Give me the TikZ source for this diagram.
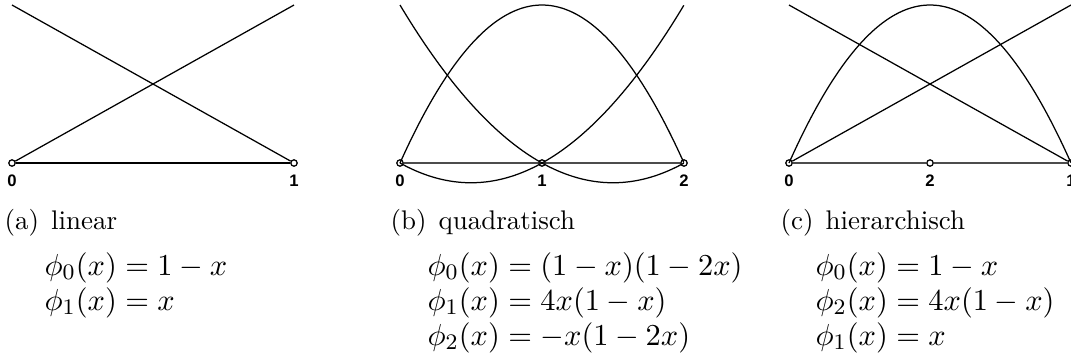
\documentclass[tikz,border=0pt]{standalone}
\usepackage{fontspec}
\newfontfamily\knotfont{Liberation Sans}
\usetikzlibrary{positioning}

\tikzset{
  knot/.style={circle, draw, inner sep=0pt, minimum size=2.3pt, line width=0.45pt},
  knotlabel/.style={inner sep=0pt, font=\knotfont\bfseries\fontsize{6}{7}\selectfont},
  basis/.style={line width=0.45pt},
  axisline/.style={line width=0.55pt, black!70},
  caption/.style={anchor=base west, inner sep=0pt, font=\fontsize{9.7}{11}\selectfont},
  formula/.style={anchor=base west, inner sep=0pt, font=\fontsize{10.8}{13}\selectfont},
}

\begin{document}
\begin{tikzpicture}[x=0.36pt, y=-0.36pt]
  \useasboundingbox (0,0) rectangle (1071,360);

  % (a) linear
  \node[knot] (a0) at (12,163) {};
  \node[knot] (a1) at (294,163) {};
  \coordinate (a0top) at (12,5);
  \coordinate (a1top) at (294,5);
  \draw[basis] (a0) -- (a1top);
  \draw[basis] (a1) -- (a0top);
  \draw[axisline, black] (a0) -- (a1);
  \node[knotlabel, below=2.6pt of a0] (la0) {0};
  \node[knotlabel, below=2.6pt of a1] (la1) {1};
  \node[caption] (capa) at (4,229) {(a)\hspace{0.45em}linear};
  \node[formula] (fa0) at (44,275) {$\phi_0(x) = 1 - x$};
  \node[formula] (fa1) at (44,310) {$\phi_1(x) = x$};

  % (b) quadratisch
  \draw[basis, domain=0:1, samples=80, smooth, variable=\t]
    plot ({400+284*\t},{163-158*(1-\t)*(1-2*\t)});
  \draw[basis, domain=0:1, samples=80, smooth, variable=\t]
    plot ({400+284*\t},{163-158*4*\t*(1-\t)});
  \draw[basis, domain=0:1, samples=80, smooth, variable=\t]
    plot ({400+284*\t},{163+158*\t*(1-2*\t)});
  \node[knot] (b0) at (400,163) {};
  \node[knot] (b1) at (542,163) {};
  \node[knot] (b2) at (684,163) {};
  \draw[axisline] (b0) -- (b1);
  \draw[axisline] (b1) -- (b2);
  \node[knotlabel, below=2.6pt of b0] (lb0) {0};
  \node[knotlabel, below=2.6pt of b1] (lb1) {1};
  \node[knotlabel, below=2.6pt of b2] (lb2) {2};
  \node[caption] (capb) at (390,229) {(b)\hspace{0.45em}quadratisch};
  \node[formula] (fb0) at (427,275) {$\phi_0(x) = (1 - x)(1 - 2x)$};
  \node[formula] (fb1) at (427,310) {$\phi_1(x) = 4x(1 - x)$};
  \node[formula] (fb2) at (427,345) {$\phi_2(x) = -x(1 - 2x)$};

  % (c) hierarchisch
  \node[knot] (c0) at (789,163) {};
  \node[knot] (c2) at (930,163) {};
  \node[knot] (c1) at (1071,163) {};
  \coordinate (c0top) at (789,5);
  \coordinate (c1top) at (1071,5);
  \draw[basis] (c0) -- (c1top);
  \draw[basis] (c1) -- (c0top);
  \draw[basis, domain=0:1, samples=80, smooth, variable=\t]
    plot ({789+282*\t},{163-158*4*\t*(1-\t)});
  \draw[axisline] (c0) -- (c2);
  \draw[axisline] (c2) -- (c1);
  \node[knotlabel, below=2.6pt of c0] (lc0) {0};
  \node[knotlabel, below=2.6pt of c2] (lc2) {2};
  \node[knotlabel, below=2.6pt of c1] (lc1) {1};
  \node[caption] (capc) at (780,229) {(c)\hspace{0.45em}hierarchisch};
  \node[formula] (fc0) at (815,275) {$\phi_0(x) = 1 - x$};
  \node[formula] (fc2) at (815,310) {$\phi_2(x) = 4x(1 - x)$};
  \node[formula] (fc1) at (815,345) {$\phi_1(x) = x$};
\end{tikzpicture}
\end{document}
